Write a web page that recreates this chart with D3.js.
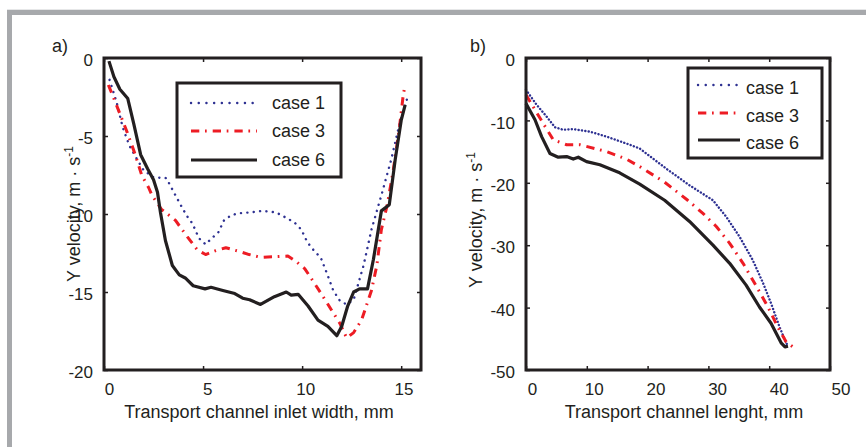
<!DOCTYPE html>
<html>
<head>
<meta charset="utf-8">
<script src="https://cdn.jsdelivr.net/npm/d3@7"></script>
<style>
  body { margin: 0; background: #fff; }
  text { font-family: "Liberation Sans", Arial, sans-serif; fill: #231f20; }
</style>
</head>
<body>
<svg id="chart" width="866" height="447"></svg>
<script>
const caseNames = ["case 1", "case 3", "case 6"];

// panel a: inlet width (mm) vs Y velocity (m/s)
const aCase1X = [0.28, 0.64, 0.95, 1.29, 1.58, 2.0, 2.5, 3.15, 3.52, 3.86, 4.17, 4.46, 4.79, 5.13, 5.44, 5.76, 6.06, 6.4, 6.74, 7.38, 8.0, 8.69, 9.28, 9.62, 9.96, 10.26, 10.6, 10.94, 11.28, 11.57, 11.9, 12.25, 12.6, 13.1, 13.5, 14.0, 14.5, 14.9, 15.3];
const aCase1Y = [-1.4, -2.85, -4.47, -5.64, -6.3, -7.2, -7.65, -7.7, -8.6, -9.4, -10.1, -10.6, -11.55, -11.95, -11.55, -11.2, -10.4, -10.1, -9.96, -9.9, -9.8, -9.9, -10.3, -10.55, -11.0, -11.8, -12.35, -12.8, -13.9, -14.9, -15.55, -15.8, -15.5, -13.3, -11.0, -8.8, -6.5, -4.3, -2.6];
const aCase3X = [0.22, 0.47, 0.76, 1.18, 1.58, 1.9, 2.25, 2.42, 2.9, 3.6, 4.2, 4.71, 5.13, 5.64, 6.15, 6.74, 7.33, 7.93, 8.6, 9.28, 9.7, 10.13, 10.55, 11.06, 11.48, 11.9, 12.25, 12.6, 13.0, 13.5, 13.77, 14.0, 14.3, 14.6, 14.9, 15.1, 15.2];
const aCase3Y = [-1.73, -2.5, -3.44, -4.8, -6.2, -7.5, -8.3, -8.8, -9.7, -10.4, -11.45, -12.3, -12.6, -12.35, -12.16, -12.37, -12.6, -12.78, -12.74, -12.7, -13.05, -13.5, -14.3, -15.3, -16.15, -17.0, -17.95, -17.6, -16.8, -14.9, -13.3, -11.0, -9.4, -7.2, -4.6, -2.4, -1.7];
const aCase6X = [0.25, 0.5, 0.8, 1.2, 1.5, 1.85, 2.2, 2.5, 2.7, 2.85, 3.1, 3.45, 3.8, 4.1, 4.5, 5.1, 5.4, 6.0, 6.6, 7.0, 7.35, 7.9, 8.6, 9.2, 9.45, 9.8, 10.3, 10.8, 11.3, 11.75, 12.0, 12.3, 12.6, 12.9, 13.3, 13.6, 14.0, 14.4, 14.7, 15.0, 15.2];
const aCase6Y = [-0.2, -1.2, -2.0, -2.6, -4.2, -6.2, -7.1, -7.8, -8.6, -9.9, -11.7, -13.3, -13.9, -14.1, -14.6, -14.8, -14.7, -14.9, -15.1, -15.4, -15.5, -15.8, -15.3, -15.0, -15.2, -15.15, -15.9, -16.8, -17.2, -17.8, -17.2, -15.9, -15.0, -14.8, -14.8, -12.9, -9.8, -9.4, -6.5, -4.0, -3.0];

// panel b: channel length (mm) vs Y velocity (m/s)
const bCase1X = [0, 1.75, 3.4, 4.76, 6.1, 7.77, 10.5, 13.25, 16.5, 18.7, 23.3, 26.9, 30.75, 32.9, 35.1, 37.3, 39.0, 40.3, 41.7, 42.8, 43.2];
const bCase1Y = [-5.1, -7.5, -9.4, -11.1, -11.5, -11.4, -11.8, -12.6, -13.7, -14.5, -17.9, -20.4, -22.8, -25.4, -28.6, -32.4, -36.1, -39.3, -43.1, -45.7, -46.2];
const bCase3X = [0, 1.48, 2.84, 4.48, 6.68, 8.87, 13.25, 16.5, 18.7, 22.8, 26.6, 29.1, 31.3, 33.5, 35.7, 37.9, 39.8, 41.4, 42.8, 43.9];
const bCase3Y = [-5.9, -8.3, -10.5, -13.1, -13.9, -13.9, -15.0, -16.2, -17.4, -19.9, -22.8, -24.9, -27.0, -29.7, -32.9, -36.6, -39.9, -43.1, -45.5, -46.3];
const bCase6X = [0, 1.48, 2.57, 3.94, 5.3, 6.68, 7.77, 8.6, 9.96, 12.15, 15.4, 18.7, 22.8, 26.9, 30.75, 33.5, 36.2, 38.4, 40.3, 42.0, 42.6, 43.1];
const bCase6Y = [-7.3, -9.9, -12.6, -15.3, -15.9, -15.8, -16.2, -15.9, -16.6, -17.1, -18.4, -20.2, -22.8, -26.2, -30.0, -32.9, -36.4, -39.9, -42.5, -45.7, -46.3, -46.2];

const aTicksX = [0, 5, 10, 15];
const aTicksY = [0, -5, -10, -15, -20];
const bTicksX = [0, 10, 20, 30, 40, 50];
const bTicksY = [0, -10, -20, -30, -40, -50];

const ink = "#231f20";
const styles = [
  { color: "#2e3192", width: 2.4, cap: "round", dash: "0.1,6.3", legendDash: "0.1,7.6" },
  { color: "#ed1c24", width: 3, cap: "butt", dash: "8.3,5.7,1.7,6", legendDash: "8.3,5.7,1.7,6" },
  { color: ink, width: 3.2, cap: "butt", dash: null, legendDash: null }
];

const svg = d3.select("#chart");

// page frame
svg.append("rect").attr("x", 7).attr("y", 9).attr("width", 866).attr("height", 1).attr("fill", "#e6e7e8");
svg.append("rect").attr("x", 7).attr("y", 10).attr("width", 866).attr("height", 5).attr("fill", "#a7a9ac");
svg.append("rect").attr("x", 7).attr("y", 10).attr("width", 5).attr("height", 447).attr("fill", "#a7a9ac");

function drawPanel(p) {
  const x = d3.scaleLinear().domain(p.xDomain).range([p.left, p.right]);
  const y = d3.scaleLinear().domain([0, p.yTicks[p.yTicks.length - 1]]).range([p.top, p.bottom]);
  // tick labels in the source sit a little right of their ticks
  const xLabel = d3.scaleLinear().domain(p.xDomain).range(p.labelRange);
  const g = svg.append("g");
  const plain = d => String(d);

  const bottomAxis = g.append("g").attr("transform", `translate(0,${p.bottom})`)
    .call(d3.axisBottom(x).tickValues(p.xTicks).tickFormat(plain).tickSizeInner(-4).tickSizeOuter(0).tickPadding(13));
  bottomAxis.selectAll(".tick text").attr("dx", d => xLabel(d) - x(d));
  const leftAxis = g.append("g").attr("transform", `translate(${p.left},0)`)
    .call(d3.axisLeft(y).tickValues(p.yTicks).tickFormat(plain).tickSizeInner(-4).tickSizeOuter(0).tickPadding(11));
  leftAxis.selectAll("text").attr("dy", "0.45em");
  g.append("g").attr("transform", `translate(0,${p.top})`)
    .call(d3.axisTop(x).tickValues(p.xTicks).tickSizeInner(-4).tickSizeOuter(0).tickFormat(""));
  g.append("g").attr("transform", `translate(${p.right},0)`)
    .call(d3.axisRight(y).tickValues(p.yTicks).tickSizeInner(-4).tickSizeOuter(0).tickFormat(""));
  g.selectAll(".domain").remove();
  g.selectAll(".tick line").attr("stroke", ink).attr("stroke-width", 1.5);
  g.selectAll(".tick text").style("font-size", "17px").attr("fill", ink)
    .style("font-family", '"Liberation Sans", Arial, sans-serif');

  p.series.forEach((s, i) => {
    const st = styles[i];
    const pts = d3.zip(s[0], s[1]);
    g.append("path").datum(pts)
      .attr("fill", "none").attr("stroke", st.color).attr("stroke-width", st.width)
      .attr("stroke-linecap", st.cap).attr("stroke-linejoin", "round")
      .attr("stroke-dasharray", i === 0 ? p.dotDash : st.dash)
      .attr("d", d3.line().x(d => x(d[0])).y(d => y(d[1])));
  });

  g.append("rect").attr("x", p.left).attr("y", p.top)
    .attr("width", p.right - p.left).attr("height", p.bottom - p.top)
    .attr("fill", "none").attr("stroke", ink).attr("stroke-width", 3);

  // legend
  const L = p.legend;
  g.append("rect").attr("x", L.x).attr("y", L.y).attr("width", L.w).attr("height", L.h)
    .attr("fill", "#fff").attr("stroke", ink).attr("stroke-width", 3);
  caseNames.forEach((name, i) => {
    const st = styles[i];
    const ly = L.rows[i];
    g.append("line").attr("x1", L.lineX0).attr("x2", L.lineX1).attr("y1", ly).attr("y2", ly)
      .attr("stroke", st.color).attr("stroke-width", st.width).attr("stroke-linecap", st.cap)
      .attr("stroke-dasharray", st.legendDash);
    g.append("text").attr("x", L.textX).attr("y", ly + L.textDy).style("font-size", "18px").text(name);
  });

  // titles
  g.append("text").attr("x", p.xTitleX).attr("y", 418)
    .attr("text-anchor", "middle").style("font-size", "18px").text(p.xTitle);
  const yt = g.append("text").attr("transform", `translate(${p.yTitleX},${p.yTitleY}) rotate(-90)`)
    .attr("text-anchor", "middle").style("font-size", "18px");
  yt.append("tspan").text("Y velocity, m · s");
  yt.append("tspan").attr("dy", -7).style("font-size", "12px").text("-1");
  g.append("text").attr("x", p.tagX).attr("y", 52).style("font-size", "18px").text(p.tag);
}

drawPanel({
  tag: "a)", tagX: 52, left: 104, right: 421, top: 58, bottom: 370,
  xDomain: [0, 16], xTicks: aTicksX, yTicks: aTicksY, labelRange: [109, 423],
  yTitleX: 80, yTitleY: 214, xTitleX: 259,
  dotDash: "0.1,6.3",
  xTitle: "Transport channel inlet width, mm",
  series: [[aCase1X, aCase1Y], [aCase3X, aCase3Y], [aCase6X, aCase6Y]],
  legend: { x: 177, y: 83, w: 164, h: 94, rows: [103, 131, 160], lineX0: 191, lineX1: 257, textX: 272, textDy: 6 }
});

drawPanel({
  tag: "b)", tagX: 470, left: 526, right: 830, top: 58, bottom: 370,
  xDomain: [0, 50], xTicks: bTicksX, yTicks: bTicksY, labelRange: [532, 840.5],
  yTitleX: 482, yTitleY: 220, xTitleX: 684,
  dotDash: "0.1,3.3",
  xTitle: "Transport channel lenght, mm",
  series: [[bCase1X, bCase1Y], [bCase3X, bCase3Y], [bCase6X, bCase6Y]],
  legend: { x: 688, y: 68, w: 134, h: 90, rows: [85, 113, 140], lineX0: 698, lineX1: 740, textX: 746, textDy: 9 }
});
</script>
</body>
</html>
